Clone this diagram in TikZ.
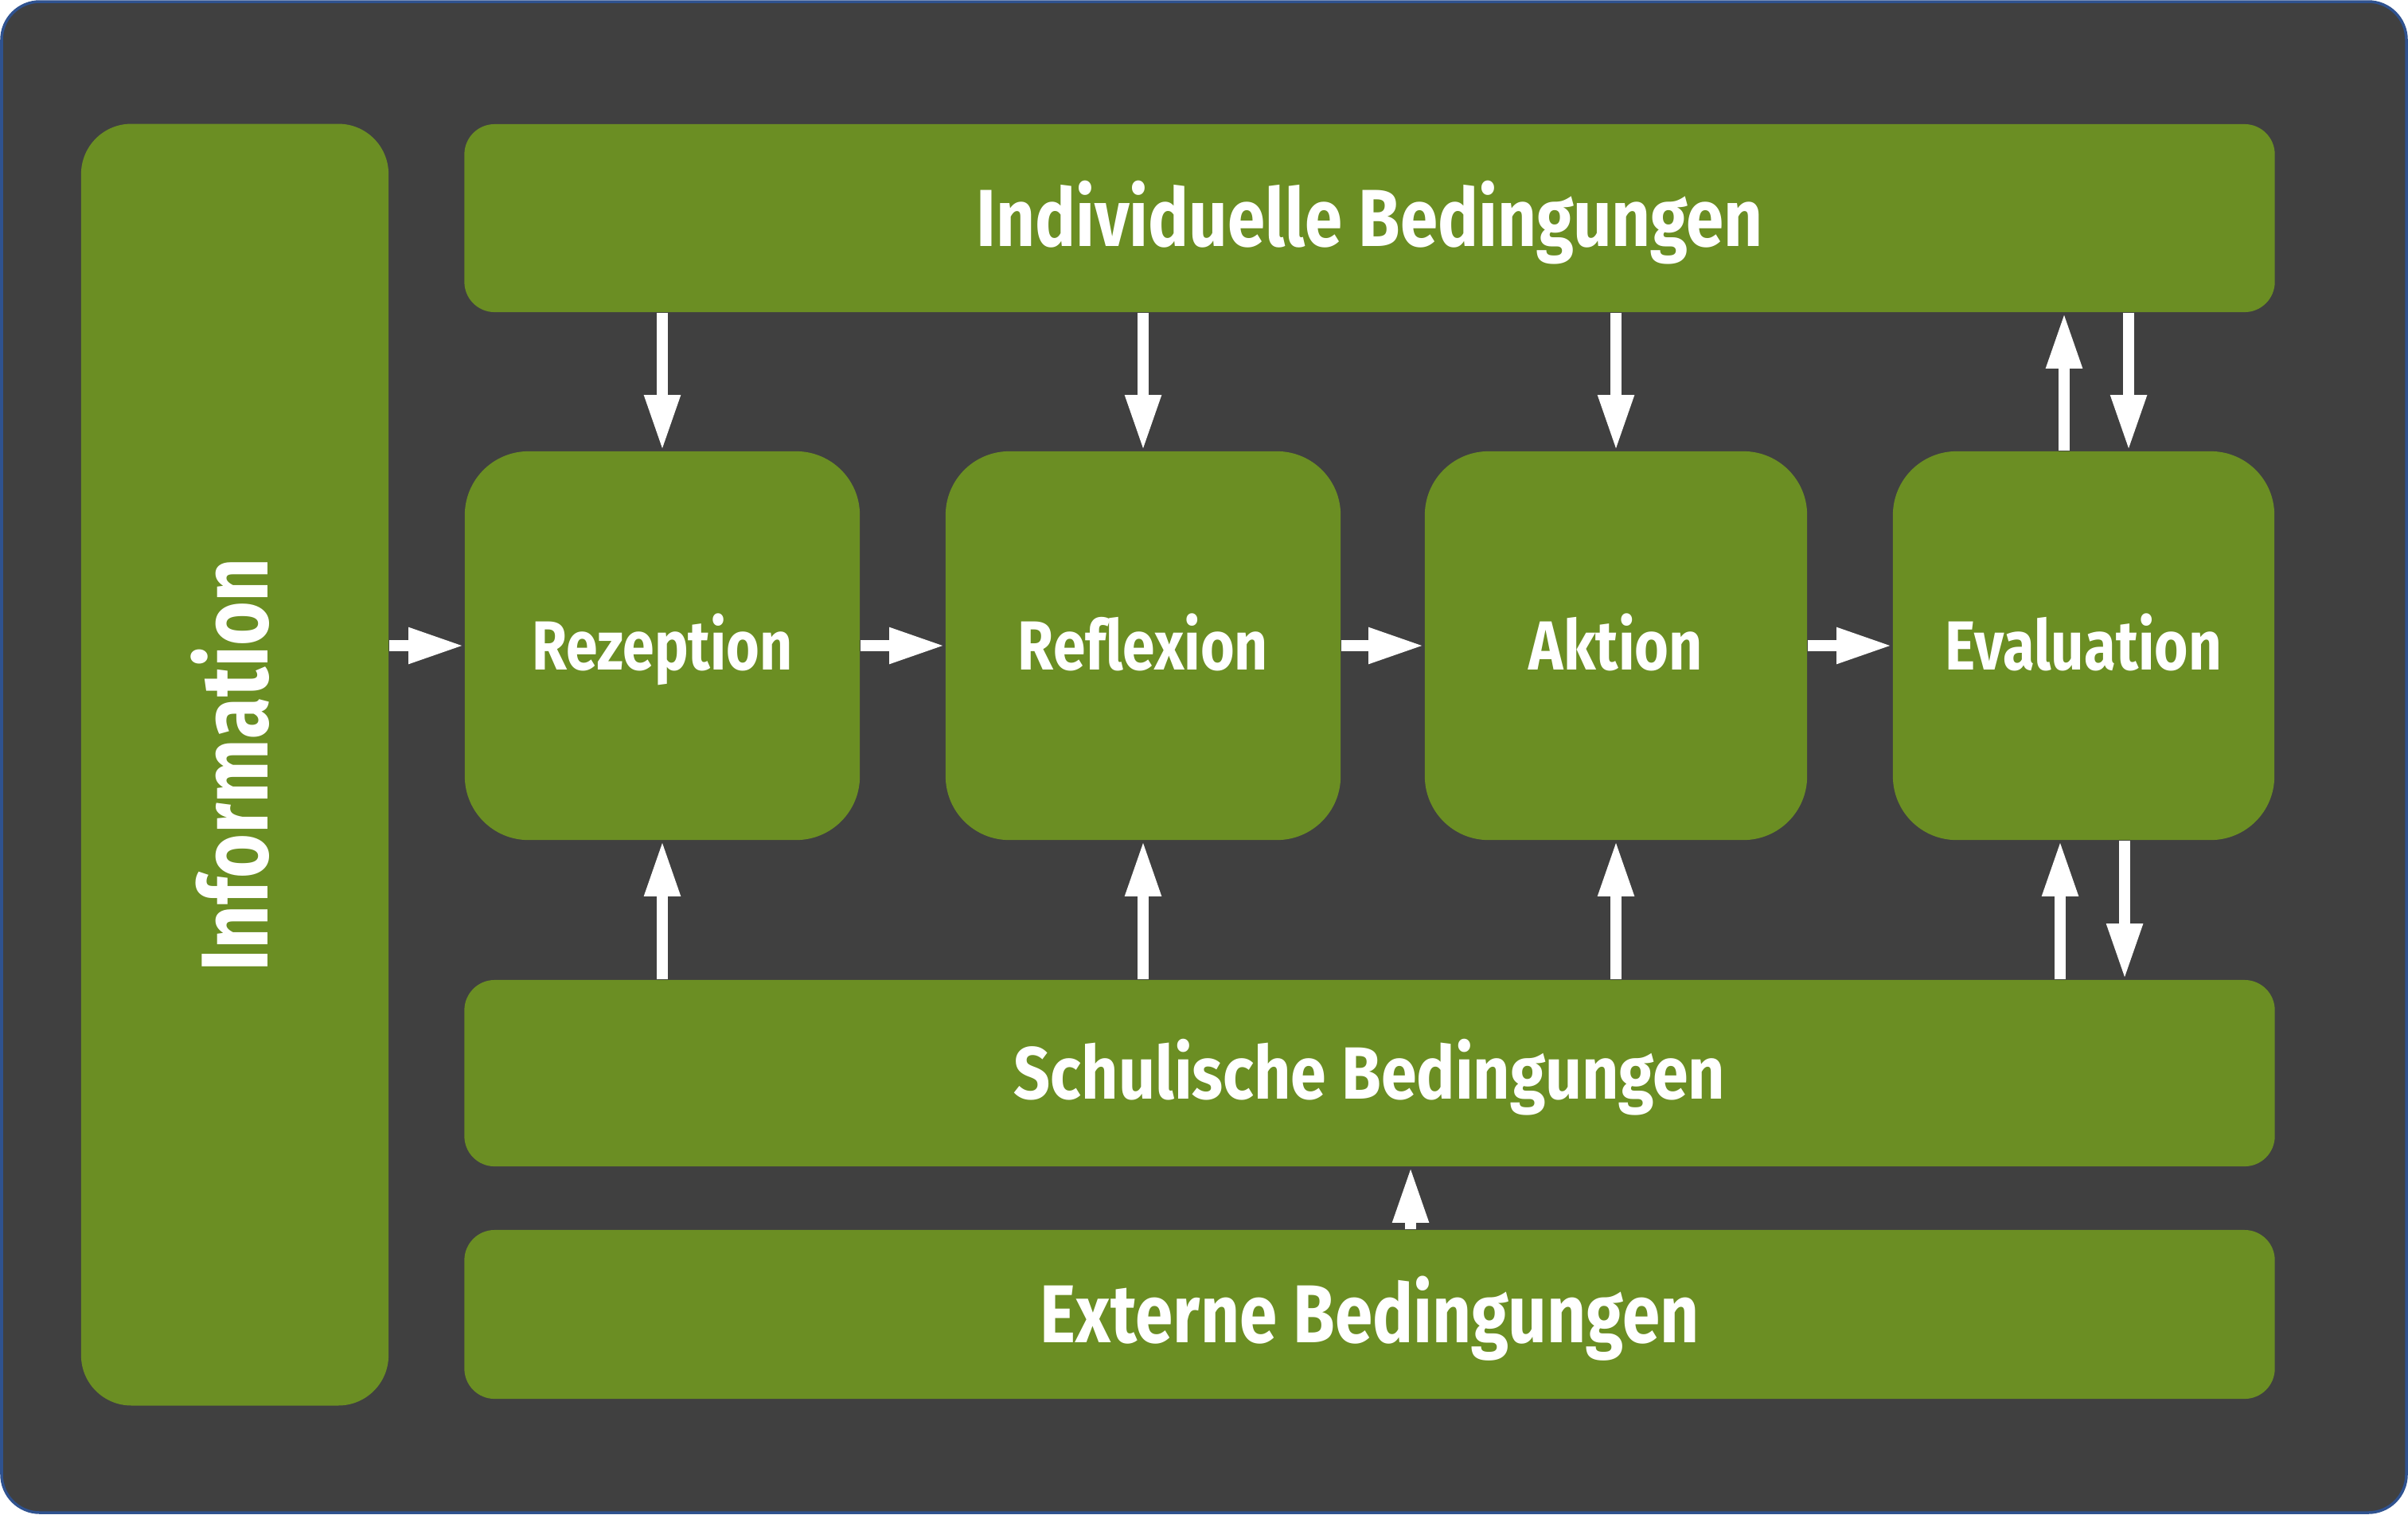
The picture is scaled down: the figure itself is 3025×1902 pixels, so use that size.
\documentclass[tikz,border=0pt]{standalone}
\usepackage{fontspec}
\setmainfont{Fira Sans}[Ligatures=NoCommon]
\usepackage{graphicx}
\usetikzlibrary{arrows.meta}
\definecolor{grn}{HTML}{6B8E23}
\definecolor{bg}{HTML}{404040}
\definecolor{frm}{HTML}{2F528F}
\newcommand{\lab}[3]{\resizebox{#1}{\height}{\fontsize{#2}{#2}\selectfont\bfseries #3}}
\begin{document}
\begin{tikzpicture}[x=0.01cm,y=0.01cm,
  box/.style={fill=grn, draw=none, inner sep=0pt, text=white, anchor=center, text depth=0pt},
  wide/.style={box, minimum width=22.73cm, rounded corners=0.38cm},
  stage/.style={box, minimum height=4.88cm, rounded corners=0.8cm, text height=0.60cm},
  arr/.style={draw=white, line width=0.14cm, -{Triangle[length=0.70cm,width=0.42cm]}}]
\useasboundingbox (0,0) rectangle (3025,-1902);
\draw[frm, fill=bg, line width=0.035cm, rounded corners=0.48cm] (2,-2) rectangle (3023,-1900);

\node[box, minimum width=3.86cm, minimum height=16.09cm, rounded corners=0.63cm] (info) at (295,-960.5) {};
\node[rotate=90, text=white, inner sep=0pt, text height=0.82cm, text depth=0pt] (infot) at (info.center) {\lab{5.19cm}{33.9pt}{Information}};

\node[wide, minimum height=2.36cm, text height=0.70cm] (ind) at (1720.5,-274) {\lab{9.88cm}{28.9pt}{Individuelle Bedingungen}};
\node[stage, minimum width=4.96cm] (rez) at (832,-811) {\lab{3.27cm}{24.8pt}{Rezeption}};
\node[stage, minimum width=4.96cm] (ref) at (1436,-811) {\lab{3.14cm}{24.8pt}{Reflexion}};
\node[stage, minimum width=4.80cm] (akt) at (2030,-811) {\lab{2.18cm}{24.8pt}{Aktion}};
\node[stage, minimum width=4.79cm] (eva) at (2617.5,-811) {\lab{3.47cm}{24.8pt}{Evaluation}};
\node[wide, minimum height=2.34cm, text height=0.64cm] (sch) at (1720.5,-1348) {\lab{8.93cm}{26.4pt}{Schulische Bedingungen}};
\node[wide, minimum height=2.12cm, text height=0.71cm] (ext) at (1720.5,-1651) {\lab{8.27cm}{29.3pt}{Externe Bedingungen}};

% horizontal flow
\draw[arr] (info.east |- rez.west) -- (rez.west);
\draw[arr] (rez.east) -- (ref.west);
\draw[arr] (ref.east) -- (akt.west);
\draw[arr] (akt.east) -- (eva.west);

% from individual conditions
\draw[arr] (ind.south -| rez.north) -- (rez.north);
\draw[arr] (ind.south -| ref.north) -- (ref.north);
\draw[arr] (ind.south -| akt.north) -- (akt.north);
\coordinate (etu) at ([xshift=-0.245cm]eva.north);
\coordinate (etd) at ([xshift=0.565cm]eva.north);
\draw[arr] (etu) -- (etu |- ind.south);
\draw[arr] (etd |- ind.south) -- (etd);

% from school conditions
\draw[arr] (sch.north -| rez.south) -- (rez.south);
\draw[arr] (sch.north -| ref.south) -- (ref.south);
\draw[arr] (sch.north -| akt.south) -- (akt.south);
\coordinate (ebu) at ([xshift=-0.295cm]eva.south);
\coordinate (ebd) at ([xshift=0.515cm]eva.south);
\draw[arr] (ebu |- sch.north) -- (ebu);
\draw[arr] (ebd) -- (ebd |- sch.north);

% external -> school
\coordinate (exu) at ([xshift=0.515cm]ext.north);
\draw[arr] (exu) -- (exu |- sch.south);
\end{tikzpicture}
\end{document}
